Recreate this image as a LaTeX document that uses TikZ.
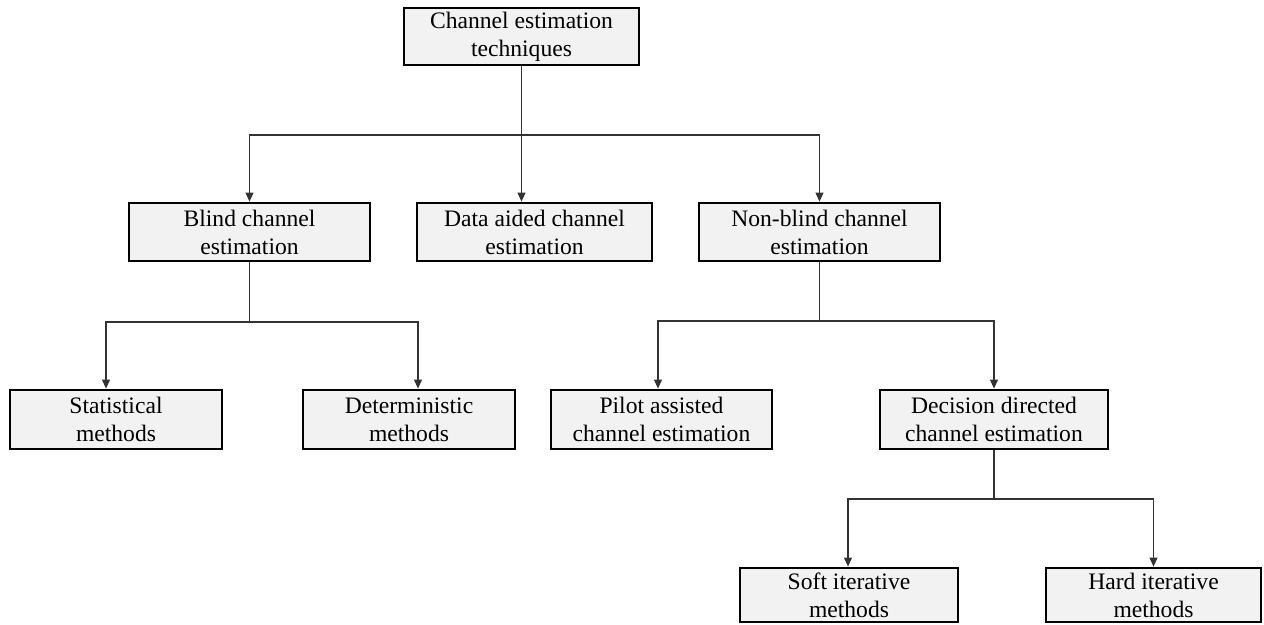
\documentclass[tikz,border=0pt]{standalone}
\usepackage{fontspec}
\setmainfont{Liberation Serif}
\usetikzlibrary{arrows.meta,calc}
\definecolor{boxfill}{HTML}{F2F2F2}
\tikzset{
  box/.style={draw=black, line width=2.8pt, fill=boxfill, inner sep=0pt, align=center,
    font=\fontsize{23.6}{28}\selectfont, execute at begin node={\rule{0pt}{22pt}}},
  link/.style={draw=black!80, line width=1.1pt},
  arr/.style={link, -{Triangle[width=8pt,length=9pt]}}
}
\begin{document}
\begin{tikzpicture}[x=1pt,y=-1pt]
\useasboundingbox (0,0) rectangle (1264,624);
\node[box, minimum width=235pt, minimum height=57pt] (root) at (521.5,36.5) {Channel estimation\\techniques};
\node[box, minimum width=241pt, minimum height=58pt] (blind) at (249.5,232) {Blind channel\\estimation};
\node[box, minimum width=235pt, minimum height=58pt] (data) at (534.5,232) {Data aided channel\\estimation};
\node[box, minimum width=241pt, minimum height=58pt] (nonblind) at (819.5,232) {Non-blind channel\\estimation};
\node[box, minimum width=212pt, minimum height=59pt] (stat) at (116,419.5) {Statistical\\methods};
\node[box, minimum width=212pt, minimum height=59pt] (det) at (409,419.5) {Deterministic\\methods};
\node[box, minimum width=221pt, minimum height=59pt] (pilot) at (661.5,419.5) {Pilot assisted\\channel estimation};
\node[box, minimum width=228pt, minimum height=59pt] (decision) at (994,419.5) {Decision directed\\channel estimation};
\node[box, minimum width=218pt, minimum height=54pt] (soft) at (849,595) {Soft iterative\\methods};
\node[box, minimum width=215pt, minimum height=54pt] (hard) at (1153.5,595) {Hard iterative\\methods};

\coordinate (j1) at (521.5,135);
\coordinate (j2) at (249.5,322);
\coordinate (j3) at (819.5,321);
\coordinate (j4) at (994,499);

\draw[arr] (root.south) -- (root.south |- data.north);
\draw[arr] (j1) -| (blind.north);
\draw[arr] (j1) -| (nonblind.north);

\draw[link] (blind.south) -- (j2);
\draw[arr] (j2) -| ($(stat.north)+(-10,0)$);
\draw[arr] (j2) -| ($(det.north)+(9,0)$);

\draw[link] (nonblind.south) -- (j3);
\draw[arr] (j3) -| ($(pilot.north)+(-3.5,0)$);
\draw[arr] (j3) -| (decision.north);

\draw[link] (decision.south) -- (j4);
\draw[arr] (j4) -| ($(soft.north)+(-1,0)$);
\draw[arr] (j4) -| (hard.north);
\end{tikzpicture}
\end{document}
